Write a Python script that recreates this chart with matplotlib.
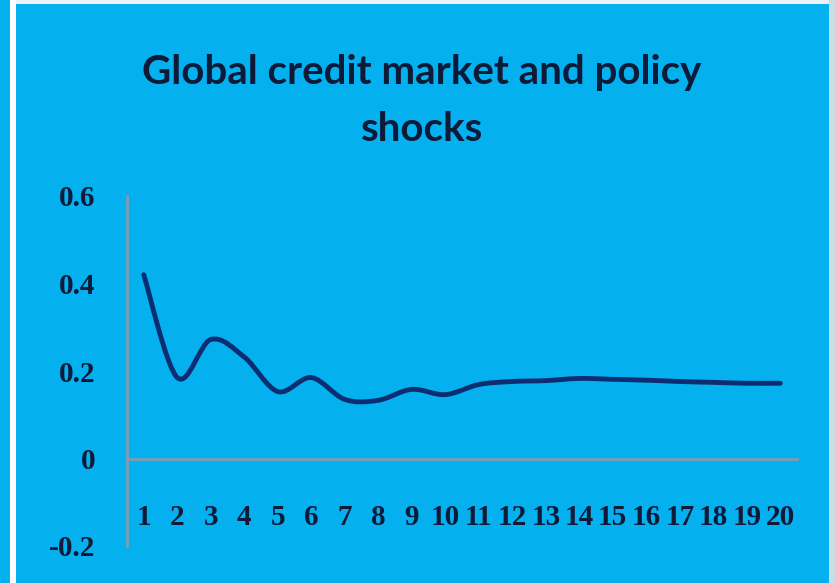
import matplotlib
matplotlib.use("Agg")
import matplotlib.pyplot as plt
from matplotlib.path import Path
from matplotlib.patches import PathPatch, Rectangle
import numpy as np

# Response of the series over 20 periods
periods = list(range(1, 21))
response = [0.42, 0.185, 0.272, 0.232, 0.153, 0.185, 0.135, 0.133, 0.158, 0.146,
            0.169, 0.176, 0.178, 0.183, 0.181, 0.179, 0.176, 0.174, 0.172, 0.172]
y_ticks = [-0.2, 0, 0.2, 0.4, 0.6]
y_tick_labels = ["-0.2", "0", "0.2", "0.4", "0.6"]
title_lines = ["Global credit market and policy", "shocks"]

BG = "#05b0ef"
LINE = "#0c2d72"
AXIS = "#7d9db5"
TEXT = "#0d1a38"

W, H = 835, 583
fig = plt.figure(figsize=(W / 100, H / 100), dpi=100, facecolor=BG)

# frame strips around the chart area
fig.patches.append(Rectangle((10 / W, 0), 6 / W, 1, transform=fig.transFigure,
                             facecolor="white", edgecolor="none", zorder=0))
fig.patches.append(Rectangle((16 / W, 1 - 4 / H), 1, 4 / H, transform=fig.transFigure,
                             facecolor="#e8f4f8", edgecolor="none", zorder=0))
fig.patches.append(Rectangle((829 / W, 0), 6 / W, 1, transform=fig.transFigure,
                             facecolor="#c9dde6", edgecolor="none", zorder=0))

ax = fig.add_axes([127 / W, 37 / H, 670 / W, 350 / H])
ax.set_facecolor(BG)
ax.set_xlim(0.5, 20.5)
ax.set_ylim(-0.2, 0.6)

for s in ["top", "right"]:
    ax.spines[s].set_visible(False)
ax.spines["left"].set_color(AXIS)
ax.spines["left"].set_linewidth(2)
ax.spines["bottom"].set_position(("data", 0))
ax.spines["bottom"].set_color(AXIS)
ax.spines["bottom"].set_linewidth(2)

ax.set_yticks(y_ticks)
ax.set_yticklabels(y_tick_labels)
ax.set_xticks(periods)
ax.set_xticklabels([str(p) for p in periods])
ax.tick_params(axis="both", length=0, labelsize=21, labelcolor=TEXT)
ax.tick_params(axis="y", pad=23)
ax.tick_params(axis="x", pad=33)
for lab in ax.get_xticklabels() + ax.get_yticklabels():
    lab.set_fontfamily("Liberation Serif")
    lab.set_fontweight("bold")

# smoothed line through the points (cubic Bezier segments)
x = np.array(periods, dtype=float)
y = np.array(response, dtype=float)
n = len(x)
verts = [(x[0], y[0])]
codes = [Path.MOVETO]
for i in range(n - 1):
    p0 = np.array([x[max(i - 1, 0)], y[max(i - 1, 0)]])
    p1 = np.array([x[i], y[i]])
    p2 = np.array([x[i + 1], y[i + 1]])
    p3 = np.array([x[min(i + 2, n - 1)], y[min(i + 2, n - 1)]])
    c1 = p1 + (p2 - p0) / 6.0
    c2 = p2 - (p3 - p1) / 6.0
    verts += [tuple(c1), tuple(c2), tuple(p2)]
    codes += [Path.CURVE4] * 3
ax.add_patch(PathPatch(Path(verts, codes), fill=False, edgecolor=LINE,
                       linewidth=3.5, capstyle="round", joinstyle="round", zorder=3))

# two-line title, each line placed by its baseline
for line, base in zip(title_lines, [84, 141]):
    fig.text(422 / W, 1 - base / H, line, ha="center", va="baseline", fontsize=29,
             family="Lato", weight="bold", color=TEXT)

fig.savefig("out.png", dpi=100, facecolor=BG)
